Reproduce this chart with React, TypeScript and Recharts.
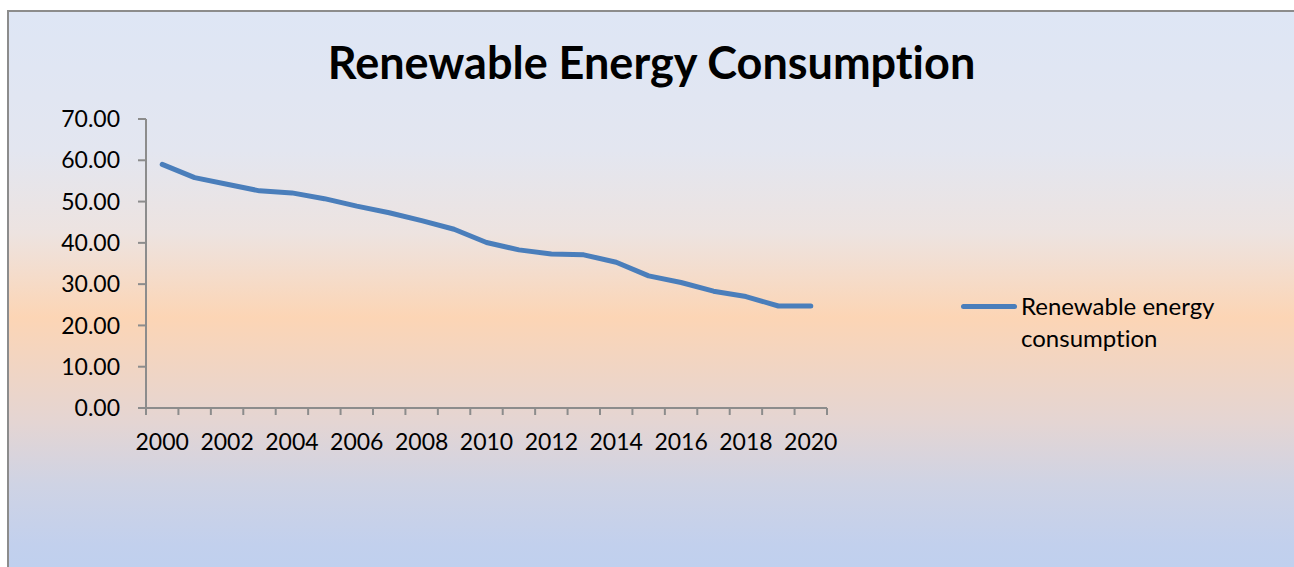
import React from 'react';
import { LineChart, Line, XAxis, YAxis, Legend } from 'recharts';

const title = 'Renewable Energy Consumption';
const seriesName = 'Renewable energy consumption';

const years = [
  2000, 2001, 2002, 2003, 2004, 2005, 2006, 2007, 2008, 2009, 2010,
  2011, 2012, 2013, 2014, 2015, 2016, 2017, 2018, 2019, 2020,
];
const consumption = [
  59.0, 55.8, 54.2, 52.6, 52.1, 50.7, 48.9, 47.3, 45.4, 43.3, 40.1,
  38.3, 37.3, 37.1, 35.3, 32.0, 30.4, 28.3, 27.0, 24.7, 24.7,
];
const yTicks = [0, 10, 20, 30, 40, 50, 60, 70];
const labelYears = [2000, 2002, 2004, 2006, 2008, 2010, 2012, 2014, 2016, 2018, 2020];

const FONT = 'Lato, "Noto Sans", sans-serif';
const AXIS = '#8c8c8c';
const BLUE = '#4a7ebb';
const NO_LIGA = { fontVariantLigatures: 'none' as const };

const data = years.map((year, i) => ({ year, value: consumption[i] }));

// Excel-style category axis: tick marks sit between years, labels on the years
const xTicks = years
  .flatMap((y) => [y - 0.5, y])
  .concat(years[years.length - 1] + 0.5);

function YearTick({ x, y, payload }: any) {
  const v = payload.value;
  if (!Number.isInteger(v)) {
    return <line x1={x} x2={x} y1={y} y2={y + 7} stroke={AXIS} strokeWidth={2} />;
  }
  if (!labelYears.includes(v)) return <g />;
  return (
    <text x={x} y={y + 42} textAnchor="middle" fill="#000" fontSize={23} fontFamily={FONT}>
      {v}
    </text>
  );
}

function LegendBox({ payload }: any) {
  return (
    <div>
      {(payload || []).map((entry: any) => (
        <div key={entry.value} style={{ display: 'flex', alignItems: 'flex-start' }}>
          <span
            style={{
              display: 'inline-block',
              width: 56,
              height: 5,
              borderRadius: 3,
              background: entry.color,
              marginTop: 14,
              marginRight: 4,
              flexShrink: 0,
            }}
          />
          <span
            style={{
              width: 220,
              fontFamily: FONT,
              fontSize: 24,
              lineHeight: '32px',
              color: '#000',
              ...NO_LIGA,
            }}
          >
            {entry.value}
          </span>
        </div>
      ))}
    </div>
  );
}

export default function App() {
  return (
    <div
      style={{
        position: 'absolute',
        left: 7,
        top: 10,
        width: 1285,
        height: 555,
        borderLeft: `2px solid ${AXIS}`,
        borderTop: `2px solid ${AXIS}`,
        background:
          'linear-gradient(to bottom, #dee6f5 0%, #e3e6f0 25%, #ede3e0 40%, #fcd5b5 55%, #e4d5d3 74%, #cfd3e4 85%, #c2d0ed 96%, #c0d0ee 100%)',
        overflow: 'hidden',
      }}
    >
      <div
        style={{
          position: 'absolute',
          left: 0,
          right: 0,
          top: 26,
          textAlign: 'center',
          fontFamily: FONT,
          fontWeight: 700,
          fontSize: 45,
          lineHeight: '48px',
          color: '#000',
          ...NO_LIGA,
        }}
      >
        {title}
      </div>
      <LineChart
        width={1285}
        height={555}
        data={data}
        margin={{ top: 107, right: 467, bottom: 129, left: 0 }}
      >
        <XAxis
          dataKey="year"
          type="number"
          domain={[years[0] - 0.5, years[years.length - 1] + 0.5]}
          ticks={xTicks}
          interval={0}
          tickSize={0}
          tickMargin={0}
          tickLine={false}
          tick={<YearTick />}
          axisLine={{ stroke: AXIS, strokeWidth: 2 }}
          height={30}
        />
        <YAxis
          type="number"
          domain={[0, 70]}
          ticks={yTicks}
          interval={0}
          width={137}
          tickSize={8}
          tickMargin={18}
          tickFormatter={(v: number) => v.toFixed(2)}
          tick={{ fill: '#000', fontSize: 23, fontFamily: FONT }}
          tickLine={{ stroke: AXIS, strokeWidth: 2 }}
          axisLine={{ stroke: AXIS, strokeWidth: 2 }}
        />
        <Legend
          layout="vertical"
          align="center"
          verticalAlign="middle"
          content={<LegendBox />}
          wrapperStyle={{ left: 952, top: 278, width: 300 }}
        />
        <Line
          type="linear"
          dataKey="value"
          name={seriesName}
          stroke={BLUE}
          strokeWidth={5}
          strokeLinecap="round"
          strokeLinejoin="round"
          dot={false}
          activeDot={false}
          isAnimationActive={false}
        />
      </LineChart>
    </div>
  );
}
